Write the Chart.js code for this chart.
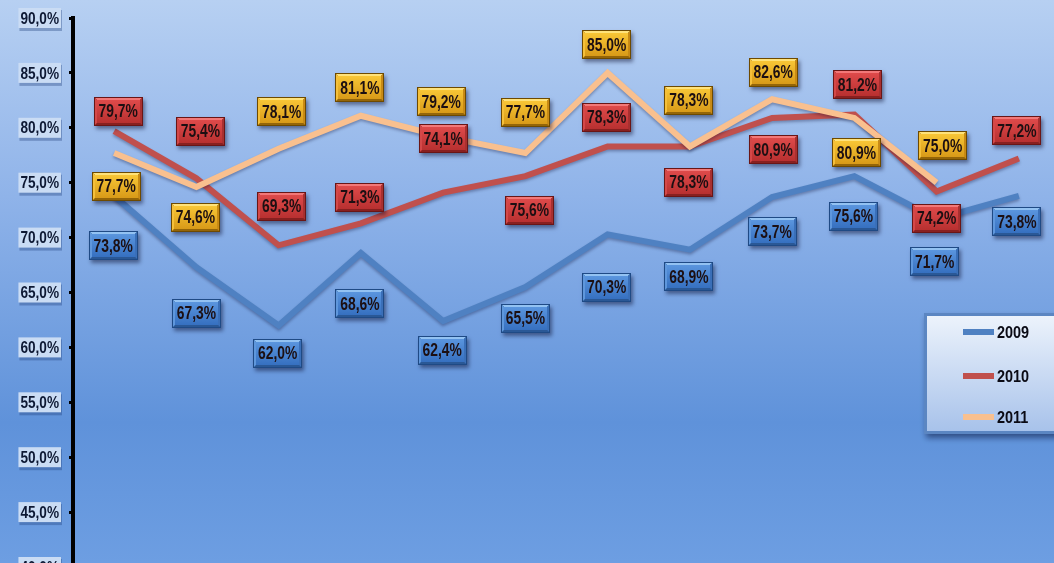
<!DOCTYPE html>
<html><head><meta charset="utf-8">
<script src="https://cdn.jsdelivr.net/npm/chart.js@4/dist/chart.umd.min.js"></script>
<style>
html,body{margin:0;padding:0;overflow:hidden;width:1054px;height:563px;background:#7fa8e2;}
#wrap{position:absolute;left:0;top:0;width:1060px;height:600px;}
</style></head><body><div id="wrap"><canvas id="c" width="1060" height="600" style="width:1060px;height:600px"></canvas></div>
<script>
const categories = ['1','2','3','4','5','6','7','8','9','10','11','12'];
const seriesNames = ['2009','2010','2011'];
const values2009 = [73.8,67.3,62.0,68.6,62.4,65.5,70.3,68.9,73.7,75.6,71.7,73.8];
const values2010 = [79.7,75.4,69.3,71.3,74.1,75.6,78.3,78.3,80.9,81.2,74.2,77.2];
const values2011 = [77.7,74.6,78.1,81.1,79.2,77.7,85.0,78.3,82.6,80.9,75.0];
const yTicks = [40,45,50,55,60,65,70,75,80,85,90];

// label placement (pixel offsets from each point)
const labelDy = [
  [50,46,28,51,29,31,53,27,35,40,43,26],
  [-20,-47,-39,-26,-54,34,-29,36,32,-30,27,-28],
  [33,30,-37,-28,-35,-41,-28,-46,-27,35,-37]
];
const labelDx = [
  [-1,0,-1,-1,-1,0,-1,-1,0,-1,-2,-2],
  [4,4,3,-1,0,4,-1,-1,1,3,0,-2],
  [2,-1,3,-1,-2,0,-1,-1,1,2,6]
];

const FONT = '"Liberation Sans",Arial,sans-serif';
const lineColors = ['#4f81c2','#c0504d','#f9c08f'];
const palettes = [
  {edge:'#1f4a85',top:'#93c2f2',left:'#5f97dc',right:'#3a6fb8',bottom:'#2a5896',c1:'#5a95de',c2:'#3670c0'},
  {edge:'#6a1616',top:'#f27878',left:'#d44848',right:'#a83030',bottom:'#882020',c1:'#de4a4a',c2:'#b83030'},
  {edge:'#6e4a00',top:'#ffe27a',left:'#f5c03a',right:'#c88a15',bottom:'#946508',c1:'#f8c636',c2:'#d89a18'}
];

function fmt(v){ return v.toFixed(1).replace('.',',') + '%'; }
function narrowText(ctx, txt, x, y, align, sx){
  ctx.save();
  ctx.translate(x, y); ctx.scale(sx, 1);
  ctx.textAlign = align; ctx.textBaseline = 'middle';
  ctx.fillText(txt, 0, 0);
  ctx.restore();
}
function poly(ctx, pts, color){
  ctx.beginPath(); ctx.moveTo(pts[0][0],pts[0][1]);
  for (let i=1;i<pts.length;i++) ctx.lineTo(pts[i][0],pts[i][1]);
  ctx.closePath(); ctx.fillStyle=color; ctx.fill();
}
function bevelBox(ctx, cx, cy, w, h, p){
  const x = Math.round(cx - w/2), y = Math.round(cy - h/2), b = 3;
  ctx.save();
  ctx.shadowColor='rgba(0,0,30,0.45)'; ctx.shadowBlur=4; ctx.shadowOffsetX=2; ctx.shadowOffsetY=3;
  ctx.fillStyle=p.edge; ctx.fillRect(x,y,w,h);
  ctx.restore();
  poly(ctx,[[x,y],[x+w,y],[x+w-b,y+b],[x+b,y+b]],p.top);
  poly(ctx,[[x,y+h],[x+w,y+h],[x+w-b,y+h-b],[x+b,y+h-b]],p.bottom);
  poly(ctx,[[x,y],[x+b,y+b],[x+b,y+h-b],[x,y+h]],p.left);
  poly(ctx,[[x+w,y],[x+w-b,y+b],[x+w-b,y+h-b],[x+w,y+h]],p.right);
  const g = ctx.createLinearGradient(0,y+b,0,y+h-b);
  g.addColorStop(0,p.c1); g.addColorStop(1,p.c2);
  ctx.fillStyle=g; ctx.fillRect(x+b,y+b,w-2*b,h-2*b);
  ctx.strokeStyle=p.edge; ctx.lineWidth=1; ctx.strokeRect(x+0.5,y+0.5,w-1,h-1);
}

const bgPlugin = {
  id:'bg',
  beforeDraw(chart){
    const ctx = chart.ctx, W = chart.width, H = chart.height;
    const g = ctx.createLinearGradient(0,0,0,563);
    g.addColorStop(0,'#b7d0f2');
    g.addColorStop(0.35,'#8fb3e9');
    g.addColorStop(0.75,'#5f92da');
    g.addColorStop(1,'#6d9ee2');
    ctx.save(); ctx.fillStyle=g; ctx.fillRect(0,0,W,H); ctx.restore();
  }
};

const yLabelPlugin = {
  id:'ylabels',
  beforeDatasetsDraw(chart){
    const ctx = chart.ctx, s = chart.scales.y;
    ctx.save();
    ctx.font = 'bold 17px ' + FONT;
    const sx = 0.8;
    s.ticks.forEach(t=>{
      const y = s.getPixelForValue(t.value);
      const txt = fmt(t.value);
      const w = ctx.measureText(txt).width * sx;
      const right = 60, x0 = right - w - 3;
      ctx.fillStyle='rgba(30,60,120,0.35)';
      ctx.fillRect(x0+1, y-8, w+4, 21);
      ctx.fillStyle='#cadcf4';
      ctx.fillRect(x0, y-10, w+4, 20);
      ctx.fillStyle='#0d1833';
      narrowText(ctx, txt, right-1, y+1, 'right', sx);
    });
    ctx.restore();
  }
};

const shadowPlugin = {
  id:'lineshadow',
  beforeDatasetDraw(chart){
    const ctx = chart.ctx; ctx.save();
    ctx.shadowColor='rgba(0,0,40,0.3)'; ctx.shadowBlur=3; ctx.shadowOffsetY=2;
  },
  afterDatasetDraw(chart){ chart.ctx.restore(); }
};

const labelPlugin = {
  id:'dlabels',
  afterDatasetsDraw(chart){
    const ctx = chart.ctx;
    [0,1,2].forEach(di=>{
      const meta = chart.getDatasetMeta(di);
      const data = chart.data.datasets[di].data;
      meta.data.forEach((pt,i)=>{
        const cx = pt.x + labelDx[di][i], cy = pt.y + labelDy[di][i];
        bevelBox(ctx, cx, cy, 49, 29, palettes[di]);
        ctx.save();
        ctx.font='bold 18px ' + FONT;
        ctx.fillStyle='#1c0f12';
        narrowText(ctx, fmt(data[i]), cx, cy+1, 'center', 0.77);
        ctx.restore();
      });
    });
  }
};

const legendPlugin = {
  id:'customLegend',
  afterDraw(chart){
    const ctx = chart.ctx;
    const x=924, y=313, w=150, h=121;
    ctx.save();
    ctx.shadowColor='rgba(0,10,50,0.5)'; ctx.shadowBlur=6; ctx.shadowOffsetX=2; ctx.shadowOffsetY=4;
    ctx.fillStyle='#5b86c2'; ctx.fillRect(x,y,w,h);
    ctx.restore();
    const g = ctx.createLinearGradient(0,y,0,y+h);
    g.addColorStop(0,'#eef4fc'); g.addColorStop(1,'#a6c1ea');
    ctx.fillStyle=g; ctx.fillRect(x+3,y+3,w-3,h-6);
    const ys=[332,376,417];
    ctx.font='bold 17px ' + FONT;
    chart.data.datasets.forEach((ds,i)=>{
      ctx.strokeStyle=ds.borderColor; ctx.lineWidth=6; ctx.lineCap='butt';
      ctx.beginPath(); ctx.moveTo(963,ys[i]); ctx.lineTo(994,ys[i]); ctx.stroke();
      ctx.fillStyle='#0a0a14';
      narrowText(ctx, ds.label, 997, ys[i]+1, 'left', 0.85);
    });
  }
};

new Chart(document.getElementById('c'), {
  type:'line',
  data:{
    labels: categories,
    datasets:[
      {label:seriesNames[0], data:values2009, borderColor:lineColors[0], order:2},
      {label:seriesNames[1], data:values2010, borderColor:lineColors[1], order:1},
      {label:seriesNames[2], data:values2011, borderColor:lineColors[2], order:0}
    ].map(d=>Object.assign(d,{borderWidth:6, pointRadius:0, pointHoverRadius:0, tension:0, fill:false}))
  },
  options:{
    responsive:false, animation:false, devicePixelRatio:1,
    layout:{padding:{top:18,bottom:33,left:0,right:0}},
    plugins:{legend:{display:false}, tooltip:{enabled:false}},
    events:[],
    scales:{
      x:{type:'category', display:false, offset:true},
      y:{
        min:40, max:90,
        afterBuildTicks(s){ s.ticks = yTicks.map(v=>({value:v})); },
        afterFit(s){ s.width = 73; },
        ticks:{display:false},
        grid:{display:true, drawOnChartArea:false, drawTicks:true, tickLength:4, color:'#000', lineWidth:3},
        border:{display:true, color:'#000', width:4}
      }
    }
  },
  plugins:[bgPlugin, yLabelPlugin, shadowPlugin, labelPlugin, legendPlugin]
});
</script>
</body></html>
